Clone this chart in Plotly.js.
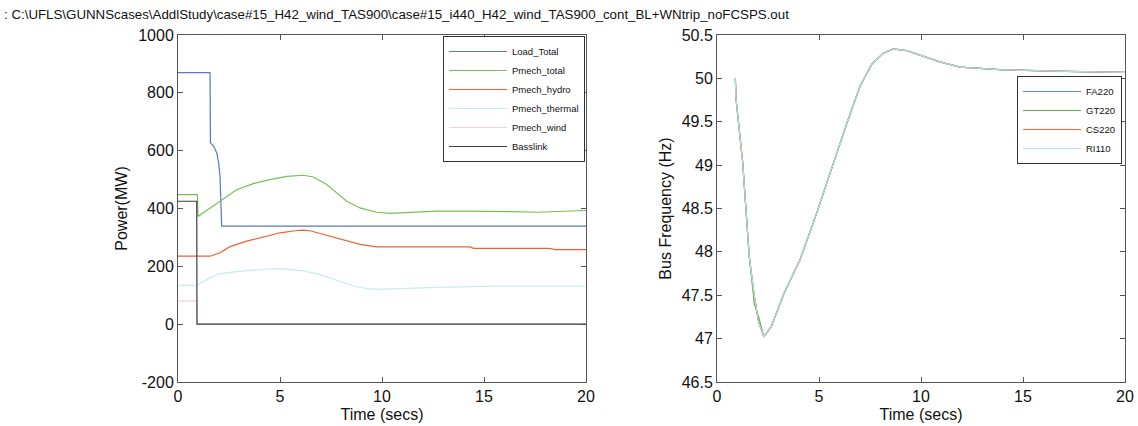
<!DOCTYPE html>
<html>
<head>
<meta charset="utf-8">
<script src="https://cdn.plot.ly/plotly-3.0.1.min.js"></script>
<style>html,body{margin:0;padding:0;background:#fff;}#chart{width:1138px;height:426px;}</style>
</head>
<body>
<div id="chart"></div>
<script>
// ---- Left panel: power (MW) ----
var tLoad   = [0, 1.57, 1.59, 1.75, 1.9, 2.0, 2.06, 2.1, 2.14, 20];
var loadTotal = [870, 870, 627, 615, 592, 555, 510, 443, 339, 339];

var tTotal  = [0, 0.95, 0.98, 1.5, 2.06, 2.87, 3.69, 4.51, 5.33, 6.14, 6.63, 7.29, 7.78, 8.27, 8.92, 9.74, 10.39, 11.04, 12.68, 14, 15.95, 16.5, 17.6, 18.5, 20];
var pmechTotal = [448, 448, 372, 397, 425, 465, 486, 500, 511, 515, 509, 483, 454, 425, 402, 387, 383, 385, 391, 391, 391, 389, 387, 389, 393];

var tHydro  = [0, 1.57, 2.06, 2.55, 3.37, 4.18, 5.0, 5.82, 6.1, 6.47, 7.29, 8.1, 8.92, 9.74, 11, 14.3, 14.5, 18.2, 18.5, 20];
var pmechHydro = [235, 235, 247, 268, 287, 302, 316, 324, 325, 323, 307, 290, 276, 267, 267, 267, 262, 262, 258, 258];

var tThermal = [0, 0.92, 1.57, 2.06, 2.87, 4.18, 5.0, 6.14, 6.96, 7.78, 8.59, 9.41, 10.2, 12.7, 15.9, 20];
var pmechThermal = [134, 134, 161, 175, 182, 190, 192, 184, 172, 153, 132, 121, 121, 127, 132, 132];

var tWind = [0, 0.92, 0.93, 20];
var pmechWind = [80, 80, 0, 0];

var tBass = [0, 0.92, 0.93, 20];
var basslink = [425, 425, 0, 0];

var powerTicks = [-200, 0, 200, 400, 600, 800, 1000];
var powerTickText = ['-200', '0', '200', '400', '600', '800', '1000'];

// ---- Right panel: bus frequency (Hz) ----
var tFreq = [0.9, 0.93, 1.26, 1.45, 1.58, 1.83, 2.04, 2.3, 2.68, 3.3, 4.07, 4.89, 5.7, 6.36, 7.01, 7.58, 8.15, 8.64, 9.3, 9.95, 10.93, 11.9, 13.05, 13.87, 17.1, 20];
var fa220 = [50.0, 49.77, 49.03, 48.41, 47.95, 47.49, 47.19, 47.02, 47.15, 47.53, 47.91, 48.45, 49.03, 49.48, 49.91, 50.16, 50.29, 50.34, 50.32, 50.27, 50.19, 50.13, 50.11, 50.10, 50.08, 50.07];
var gt220 = [50.0, 49.77, 49.03, 48.41, 47.95, 47.40, 47.25, 47.02, 47.15, 47.53, 47.91, 48.45, 49.03, 49.48, 49.91, 50.16, 50.29, 50.34, 50.32, 50.27, 50.19, 50.13, 50.11, 50.10, 50.08, 50.07];
var cs220 = [50.0, 49.77, 49.03, 48.41, 47.95, 47.49, 47.19, 47.02, 47.15, 47.53, 47.91, 48.45, 49.03, 49.48, 49.91, 50.16, 50.29, 50.34, 50.32, 50.27, 50.19, 50.13, 50.11, 50.10, 50.08, 50.07];
var ri110 = [50.0, 49.77, 49.03, 48.41, 47.95, 47.49, 47.19, 47.02, 47.15, 47.53, 47.91, 48.45, 49.03, 49.48, 49.91, 50.16, 50.29, 50.34, 50.32, 50.27, 50.19, 50.13, 50.11, 50.10, 50.08, 50.07];

var filePath = ": C:\\UFLS\\GUNNScases\\AddlStudy\\case#15_H42_wind_TAS900\\case#15_i440_H42_wind_TAS900_cont_BL+WNtrip_noFCSPS.out";

function ln(x, y, name, color, xa, ya, lg) {
  return {x: x, y: y, name: name, type: 'scatter', mode: 'lines',
          line: {color: color, width: 1.2}, xaxis: xa, yaxis: ya, legend: lg, hoverinfo: 'skip'};
}

var traces = [
  ln(tLoad, loadTotal, 'Load_Total', '#5b76c2', 'x', 'y', 'legend'),
  ln(tTotal, pmechTotal, 'Pmech_total', '#78be58', 'x', 'y', 'legend'),
  ln(tHydro, pmechHydro, 'Pmech_hydro', '#ec6236', 'x', 'y', 'legend'),
  ln(tThermal, pmechThermal, 'Pmech_thermal', '#c6ebf0', 'x', 'y', 'legend'),
  ln(tWind, pmechWind, 'Pmech_wind', '#f5d0d8', 'x', 'y', 'legend'),
  ln(tBass, basslink, 'Basslink', '#3c3c3c', 'x', 'y', 'legend'),
  ln(tFreq, fa220, 'FA220', '#6a8db0', 'x2', 'y2', 'legend2'),
  ln(tFreq, gt220, 'GT220', '#5cb040', 'x2', 'y2', 'legend2'),
  ln(tFreq, cs220, 'CS220', '#ee6a3a', 'x2', 'y2', 'legend2'),
  ln(tFreq, ri110, 'RI110', '#a8e2e6', 'x2', 'y2', 'legend2')
];

var W = 1138, H = 426;
var fontFam = 'Liberation Sans, Arial, sans-serif';
function ax(extra) {
  var base = {showline: true, mirror: 'allticks', linecolor: '#555', linewidth: 1,
    ticks: 'inside', ticklen: 5, tickcolor: '#555', showgrid: false, zeroline: false,
    tickfont: {family: fontFam, size: 16, color: '#111'}, automargin: false, fixedrange: true};
  for (var k in extra) base[k] = extra[k];
  return base;
}

var layout = {
  width: W, height: H,
  margin: {l: 0, r: 0, t: 0, b: 0},
  paper_bgcolor: '#fff', plot_bgcolor: '#fff',
  font: {family: fontFam, color: '#111'},
  xaxis: ax({domain: [178/W, 586/W], range: [0, 20], dtick: 5, tick0: 0, anchor: 'y',
    title: {text: 'Time (secs)', font: {size: 16}, standoff: 4}}),
  yaxis: ax({domain: [1 - 382/H, 1 - 35/H], range: [-200, 1000], tickmode: 'array',
    tickvals: powerTicks, ticktext: powerTickText, anchor: 'x',
    title: {text: 'Power(MW)', font: {size: 16}, standoff: 6}}),
  xaxis2: ax({domain: [717/W, 1125/W], range: [0, 20], dtick: 5, tick0: 0, anchor: 'y2',
    title: {text: 'Time (secs)', font: {size: 16}, standoff: 4}}),
  yaxis2: ax({domain: [1 - 382/H, 1 - 35/H], range: [46.5, 50.5], dtick: 0.5, anchor: 'x2',
    title: {text: 'Bus Frequency (Hz)', font: {size: 16}, standoff: 6}}),
  legend: {x: 585/W, y: 1 - 36/H, xanchor: 'right', yanchor: 'top', itemwidth: 58,
    bgcolor: '#fff', bordercolor: '#333', borderwidth: 1,
    font: {family: fontFam, size: 9.5, color: '#111'}},
  legend2: {x: 1122/W, y: 1 - 76/H, xanchor: 'right', yanchor: 'top', itemwidth: 58,
    bgcolor: '#fff', bordercolor: '#333', borderwidth: 1,
    font: {family: fontFam, size: 9.5, color: '#111'}},
  annotations: [{text: filePath, xref: 'paper', yref: 'paper', x: 2/W, y: 1 - 14/H,
    xanchor: 'left', yanchor: 'middle', showarrow: false,
    font: {family: fontFam, size: 13.3, color: '#111'}}],
  showlegend: true
};

Plotly.newPlot('chart', traces, layout, {staticPlot: true, displayModeBar: false});
</script>
</body>
</html>
